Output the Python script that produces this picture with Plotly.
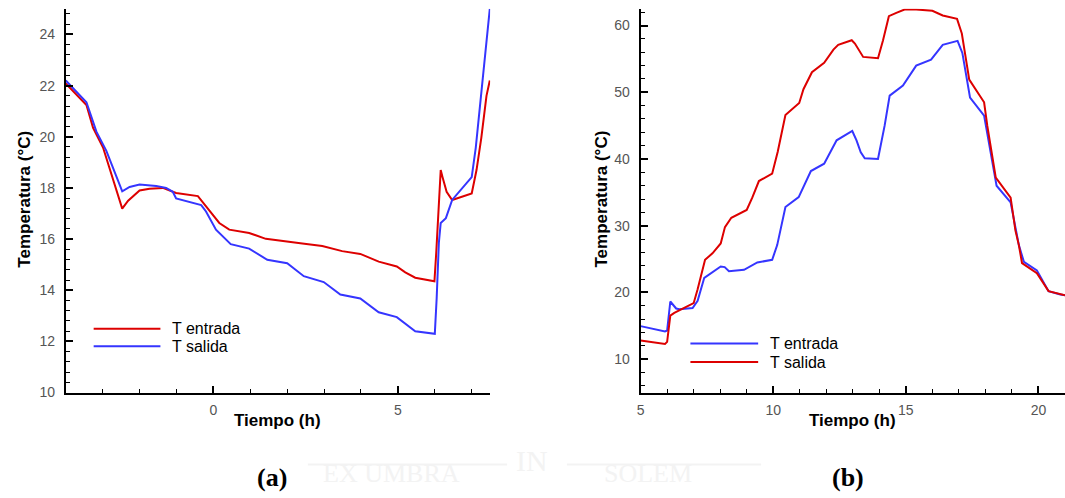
import plotly.graph_objects as go

# ---- (a) night-time test ----
tiempo_a_entrada = [-4.0, -3.44, -3.26, -2.99, -2.47, -2.31, -2.0, -1.73, -1.37, -1.01, -0.42, -0.11,
                    0.16, 0.43, 0.97, 1.42, 2.0, 2.41, 2.95, 3.49, 3.98, 4.48, 4.97, 5.2, 5.47, 5.99,
                    6.04, 6.08, 6.16, 6.21, 6.32, 6.47, 7.0, 7.13, 7.26, 7.4, 7.49]
temp_a_entrada = [22.08, 21.24, 20.35, 19.58, 17.19, 17.5, 17.9, 17.97, 18.0, 17.8, 17.68, 17.14,
                  16.63, 16.37, 16.24, 16.01, 15.92, 15.83, 15.73, 15.53, 15.42, 15.12, 14.93, 14.7, 14.49, 14.35,
                  15.5, 16.6, 18.7, 18.42, 17.85, 17.53, 17.78, 18.7, 19.96, 21.6, 22.2]

tiempo_a_salida = [-4.0, -3.44, -3.17, -2.9, -2.47, -2.27, -2.0, -1.55, -1.28, -1.1, -1.01, -0.78,
                   -0.33, -0.2, 0.07, 0.47, 0.97, 1.46, 2.0, 2.45, 2.99, 3.44, 3.98, 4.48, 4.97, 5.47,
                   6.0, 6.05, 6.11, 6.16, 6.3, 6.47, 7.0, 7.11, 7.26, 7.49]
temp_a_salida = [22.2, 21.35, 20.2, 19.45, 17.87, 18.04, 18.13, 18.08, 18.0, 17.85, 17.59, 17.5,
                 17.33, 17.08, 16.37, 15.8, 15.63, 15.19, 15.06, 14.55, 14.32, 13.83, 13.68, 13.14, 12.95, 12.4,
                 12.3, 13.68, 15.86, 16.63, 16.82, 17.53, 18.42, 19.58, 21.73, 25.0]

# ---- (b) daytime test ----
tiempo_b_entrada = [5.0, 5.92, 6.0, 6.12, 6.34, 6.46, 6.96, 7.15, 7.4, 7.77, 8.02, 8.17, 8.33, 8.9,
                    9.4, 9.96, 10.15, 10.46, 10.96, 11.42, 11.92, 12.39, 12.98, 13.14, 13.3, 13.45,
                    13.95, 14.2, 14.39, 14.89, 15.39, 15.95, 16.39, 16.95, 17.13, 17.42, 17.95, 18.42,
                    18.95, 19.26, 19.45, 19.94, 20.38, 20.82, 21.0]
temp_b_entrada = [14.96, 14.17, 14.3, 18.65, 17.6, 17.5, 17.67, 18.75, 22.2, 23.2, 23.9, 23.8, 23.2, 23.4,
                  24.5, 24.9, 27.1, 32.8, 34.3, 38.2, 39.3, 42.8, 44.2, 42.8, 41.0, 40.1,
                  40.0, 45.0, 49.5, 51.0, 54.0, 54.9, 57.1, 57.7, 55.9, 49.2, 46.5, 36.0,
                  33.5, 27.1, 24.6, 23.3, 20.2, 19.7, 19.6]

tiempo_b_salida = [5.0, 5.52, 5.92, 6.0, 6.12, 6.27, 6.52, 7.0, 7.15, 7.43, 7.71, 8.02, 8.18, 8.42,
                   9.0, 9.21, 9.46, 9.96, 10.17, 10.46, 10.98, 11.14, 11.46, 11.92, 12.27, 12.45,
                   12.96, 13.08, 13.39, 13.95, 14.14, 14.36, 14.64, 14.95, 15.39, 16.0, 16.39, 16.93,
                   17.11, 17.39, 17.95, 18.07, 18.39, 18.95, 19.13, 19.26, 19.38, 19.94, 20.38, 20.82, 21.0]
temp_b_salida = [12.8, 12.5, 12.3, 12.6, 16.53, 16.93, 17.42, 18.4, 20.47, 24.9, 25.87, 27.35, 29.8, 31.2,
                 32.36, 34.2, 36.7, 37.8, 41.1, 46.6, 48.4, 50.46, 53.0, 54.4, 56.4, 57.1,
                 57.8, 57.3, 55.3, 55.1, 57.8, 61.4, 61.9, 62.4, 62.4, 62.2, 61.5, 61.0,
                 58.8, 51.9, 48.5, 45.0, 37.2, 34.2, 29.3, 27.1, 24.4, 22.9, 20.2, 19.7, 19.6]

label_entrada = "T entrada"
label_salida = "T salida"
titulo_x = "Tiempo (h)"
titulo_y = "Temperatura (°C)"

RED = "#dd0000"
BLUE = "#3535ff"
W, H = 1065, 498

fig = go.Figure()
fig.add_trace(go.Scatter(x=tiempo_a_entrada, y=temp_a_entrada, mode="lines", line=dict(color=RED, width=2),
                         xaxis="x", yaxis="y", showlegend=False))
fig.add_trace(go.Scatter(x=tiempo_a_salida, y=temp_a_salida, mode="lines", line=dict(color=BLUE, width=2),
                         xaxis="x", yaxis="y", showlegend=False))
fig.add_trace(go.Scatter(x=tiempo_b_entrada, y=temp_b_entrada, mode="lines", line=dict(color=BLUE, width=2),
                         xaxis="x2", yaxis="y2", showlegend=False))
fig.add_trace(go.Scatter(x=tiempo_b_salida, y=temp_b_salida, mode="lines", line=dict(color=RED, width=2),
                         xaxis="x2", yaxis="y2", showlegend=False))

tick_font = dict(family="Arial, Liberation Sans, sans-serif", size=14, color="#555555")
title_font = dict(family="Arial, Liberation Sans, sans-serif", size=17, color="black")


def axis(dom, rng, dtick, tick0, minor_dtick, anchor, **kw):
    return dict(domain=dom, range=rng, dtick=dtick, tick0=tick0, anchor=anchor,
                showgrid=False, zeroline=False, showline=True, linecolor="black", linewidth=2,
                ticks="inside", ticklen=7, tickwidth=1.5, tickcolor="black",
                tickfont=tick_font, fixedrange=True,
                minor=dict(dtick=minor_dtick, tick0=tick0, ticks="inside", ticklen=4,
                           tickwidth=1, tickcolor="black", showgrid=False),
                **kw)


def px(x):
    return x / W


def py(y):
    return 1 - y / H


ydom = [py(399), py(9)]
fig.update_layout(
    width=W, height=H, margin=dict(l=0, r=0, t=0, b=0),
    paper_bgcolor="white", plot_bgcolor="white",
    xaxis=axis([px(62), px(488)], [-4, 7.5], 5, 0, 1, "y", ticklabelstandoff=4),
    yaxis=axis(ydom, [10, 25], 2, 10, 0.4, "x", ticklabelstandoff=6),
    xaxis2=axis([px(639), 1.0], [5, 21], 5, 0, 1, "y2", ticklabelstandoff=4),
    yaxis2=axis(ydom, [5, 62.5], 10, 10, 2, "x2", ticklabelstandoff=6),
)

annotations = []
shapes = []

# axis titles
for xc, yt_x in [((62 + 488) / 2, 21), ((639 + 1065) / 2, 600)]:
    annotations.append(dict(text="<b>%s</b>" % titulo_x, x=px(xc), y=py(427), xref="paper", yref="paper",
                            showarrow=False, font=title_font, xanchor="center", yanchor="middle"))
    annotations.append(dict(text="<b>%s</b>" % titulo_y, x=px(yt_x), y=py(202), xref="paper", yref="paper",
                            showarrow=False, font=title_font, textangle=-90,
                            xanchor="center", yanchor="middle"))

# panel labels
for lab, xc in [("(a)", 269), ("(b)", 847)]:
    annotations.append(dict(text="<b>%s</b>" % lab, x=px(xc), y=py(485), xref="paper", yref="paper",
                            showarrow=False, xanchor="center", yanchor="middle",
                            font=dict(family="Times New Roman, Liberation Serif, serif", size=26, color="black")))

# legends
legend_font = dict(family="Arial, Liberation Sans, sans-serif", size=16, color="black")
for (x0, x1, tx), items in [((90, 157, 167), [(334, RED, label_entrada), (352, BLUE, label_salida)]),
                            ((689, 757, 767), [(349, BLUE, label_entrada), (368, RED, label_salida)])]:
    for yy, col, txt in items:
        shapes.append(dict(type="line", xref="paper", yref="paper", x0=px(x0), x1=px(x1),
                           y0=py(yy), y1=py(yy), line=dict(color=col, width=2)))
        annotations.append(dict(text=txt, x=px(tx), y=py(yy), xref="paper", yref="paper", showarrow=False,
                                xanchor="left", yanchor="middle", font=legend_font))

# faint background seal
seal = "#f3f3f3"
seal_font = dict(family="Liberation Serif, Times New Roman, serif", size=26, color=seal)
for txt, xl in [("EX UMBRA", 318), ("SOLEM", 600)]:
    annotations.append(dict(text=txt, x=px(xl), y=py(498), xref="paper", yref="paper", showarrow=False,
                            xanchor="left", yanchor="bottom", font=seal_font))
annotations.append(dict(text="IN", x=px(530), y=py(468), xref="paper", yref="paper", showarrow=False,
                        xanchor="center", yanchor="middle",
                        font=dict(family="Liberation Serif, serif", size=30, color=seal)))
for x0, x1 in [(305, 505), (565, 760)]:
    shapes.append(dict(type="line", xref="paper", yref="paper", x0=px(x0), x1=px(x1),
                       y0=py(472), y1=py(472), line=dict(color=seal, width=2), layer="below"))

fig.update_layout(annotations=annotations, shapes=shapes)
fig.write_html("out.html")
